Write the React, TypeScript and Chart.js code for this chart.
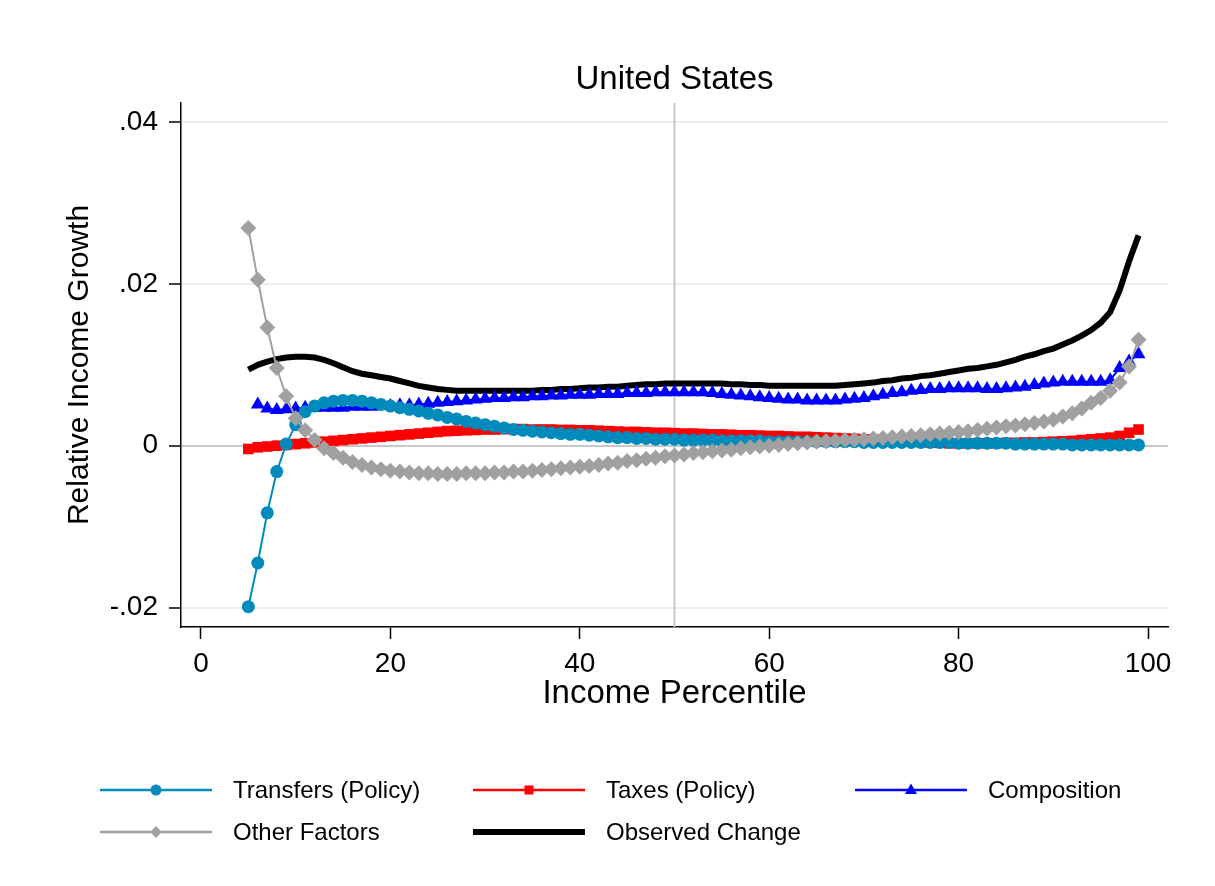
import React, { useEffect, useRef } from 'react';
import { Chart, registerables } from 'chart.js';

Chart.register(...registerables);

const FONT = '"Liberation Sans", Arial, sans-serif';

const chartTitle = 'United States';
const xAxisTitle = 'Income Percentile';
const yAxisTitle = 'Relative Income Growth';

const xTickValues = [0, 20, 40, 60, 80, 100];
const yTickValues = [-0.02, 0, 0.02, 0.04];
const yTickLabels = ['-.02', '0', '.02', '.04'];

const percentiles = [
  5, 6, 7, 8, 9, 10, 11, 12, 13, 14,
  15, 16, 17, 18, 19, 20, 21, 22, 23, 24,
  25, 26, 27, 28, 29, 30, 31, 32, 33, 34,
  35, 36, 37, 38, 39, 40, 41, 42, 43, 44,
  45, 46, 47, 48, 49, 50, 51, 52, 53, 54,
  55, 56, 57, 58, 59, 60, 61, 62, 63, 64,
  65, 66, 67, 68, 69, 70, 71, 72, 73, 74,
  75, 76, 77, 78, 79, 80, 81, 82, 83, 84,
  85, 86, 87, 88, 89, 90, 91, 92, 93, 94,
  95, 96, 97, 98, 99,
];

const transfers = [
  -0.0199, -0.0145, -0.0083, -0.0032, 0.0002, 0.0026, 0.0042, 0.0049, 0.0053, 0.0055,
  0.0056, 0.0056, 0.0055, 0.0053, 0.0051, 0.0049, 0.0047, 0.0045, 0.0043, 0.004,
  0.0038, 0.0035, 0.0033, 0.003, 0.0028, 0.0026, 0.0024, 0.0022, 0.002, 0.0019,
  0.0018, 0.0017, 0.0016, 0.0015, 0.0014, 0.0014, 0.0013, 0.0012, 0.0011, 0.001,
  0.001, 0.0009, 0.0009, 0.0008, 0.0008, 0.0008, 0.0007, 0.0007, 0.0007, 0.0007,
  0.0006, 0.0006, 0.0006, 0.0006, 0.0006, 0.0005, 0.0005, 0.0005, 0.0005, 0.0005,
  0.0005, 0.0005, 0.0005, 0.0005, 0.0005, 0.0004, 0.0004, 0.0004, 0.0004, 0.0004,
  0.0004, 0.0004, 0.0004, 0.0004, 0.0004, 0.0003, 0.0003, 0.0003, 0.0003, 0.0003,
  0.0003, 0.0002, 0.0002, 0.0002, 0.0002, 0.0002, 0.0002, 0.0001, 0.0001, 0.0001,
  0.0001, 0.0001, 0.0001, 0.0001, 0.0001,
];

const taxes = [
  -0.0004, -0.0002, -0.0001, 0.0, 0.0001, 0.0002, 0.0003, 0.0004, 0.0005, 0.0006,
  0.0007, 0.0008, 0.0009, 0.001, 0.0011, 0.0012, 0.0013, 0.0014, 0.0015, 0.0016,
  0.0017, 0.0018, 0.00185, 0.0019, 0.00195, 0.002, 0.002, 0.00205, 0.00205, 0.00205,
  0.002, 0.002, 0.002, 0.00195, 0.00195, 0.0019, 0.0019, 0.00185, 0.0018, 0.00175,
  0.0017, 0.0017, 0.00165, 0.0016, 0.0016, 0.00155, 0.0015, 0.0015, 0.00145, 0.0014,
  0.0014, 0.00135, 0.0013, 0.0013, 0.00125, 0.0012, 0.0012, 0.00115, 0.0011, 0.0011,
  0.00105, 0.001, 0.00095, 0.0009, 0.00085, 0.0008, 0.00075, 0.0007, 0.0006, 0.00055,
  0.0005, 0.00045, 0.0004, 0.00035, 0.0003, 0.0003, 0.0003, 0.0003, 0.0003, 0.0003,
  0.00035, 0.00035, 0.0004, 0.0004, 0.00045, 0.0005, 0.00055, 0.0006, 0.0007, 0.0008,
  0.0009, 0.001, 0.0012, 0.0016, 0.002,
];

const composition = [
  null, 0.0051, 0.0046, 0.0044, 0.0045, 0.0046, 0.0047, 0.0047, 0.0047, 0.0047,
  0.0047, 0.0048, 0.0048, 0.0048, 0.0049, 0.0049, 0.005, 0.005, 0.0051, 0.0052,
  0.0053, 0.0054, 0.0055, 0.0056, 0.0057, 0.0058, 0.0059, 0.0059, 0.006, 0.006,
  0.0061, 0.0061, 0.0062, 0.0062, 0.0063, 0.0063, 0.0063, 0.0064, 0.0064, 0.0064,
  0.0065, 0.0065, 0.0065, 0.0066, 0.0066, 0.0066, 0.0066, 0.0066, 0.0066, 0.0065,
  0.0064, 0.0063, 0.0062, 0.0061, 0.006, 0.0059, 0.0058, 0.0057, 0.0057, 0.0056,
  0.0056, 0.0056, 0.0056, 0.0057, 0.0058, 0.0059, 0.0061, 0.0063, 0.0065, 0.0066,
  0.0068, 0.0069, 0.007, 0.007, 0.0071, 0.0071, 0.0071, 0.0071, 0.007, 0.007,
  0.0071, 0.0072, 0.0073, 0.0075, 0.0077, 0.0078, 0.0079, 0.0079, 0.0079, 0.0079,
  0.0079, 0.0081, 0.0096, 0.0104, 0.0113,
];

const otherFactors = [
  0.0269, 0.0205, 0.0146, 0.0096, 0.0061, 0.0034, 0.0019, 0.0007, -0.0003, -0.0009,
  -0.0015, -0.002, -0.0024, -0.0027, -0.0029, -0.0031, -0.0032, -0.0033, -0.0034, -0.0034,
  -0.0035, -0.0035, -0.0035, -0.0034, -0.0034, -0.0034, -0.0033, -0.0033, -0.0032, -0.0032,
  -0.0031, -0.003, -0.0029, -0.0028, -0.0027, -0.0026, -0.0025, -0.0024, -0.0022, -0.0021,
  -0.0019, -0.0018, -0.0016, -0.0015, -0.0013, -0.0012, -0.0011, -0.0009, -0.0008, -0.0007,
  -0.0006, -0.0005, -0.0003, -0.0002, -0.0001, 0.0, 0.0001, 0.0002, 0.0003, 0.0004,
  0.0005, 0.00055, 0.0006, 0.0007, 0.00075, 0.0008, 0.0009, 0.00095, 0.00105, 0.00115,
  0.0012, 0.0013, 0.0014, 0.0015, 0.0016, 0.0017, 0.0018, 0.00195, 0.0021, 0.00225,
  0.0024, 0.0025, 0.00265, 0.0028, 0.003, 0.0032, 0.0036, 0.004, 0.0046, 0.0053,
  0.0059, 0.0068, 0.0078, 0.0098, 0.0131,
];

const observedChange = [
  0.0094, 0.01, 0.0104, 0.0107, 0.0109, 0.011, 0.011, 0.0109, 0.0106, 0.0102,
  0.0097, 0.0092, 0.0089, 0.0087, 0.0085, 0.0083, 0.008, 0.0077, 0.0074, 0.0072,
  0.007, 0.0069, 0.0068, 0.0068, 0.0068, 0.0068, 0.0068, 0.0068, 0.0068, 0.0068,
  0.0068, 0.0069, 0.0069, 0.007, 0.007, 0.0071, 0.0072, 0.0072, 0.0073, 0.0073,
  0.0074, 0.0075, 0.0076, 0.0076, 0.0077, 0.0077, 0.0077, 0.0077, 0.0077, 0.0077,
  0.0077, 0.0076, 0.0076, 0.0075, 0.0075, 0.0074, 0.0074, 0.0074, 0.0074, 0.0074,
  0.0074, 0.0074, 0.0074, 0.0075, 0.0076, 0.0077, 0.0078, 0.008, 0.0081, 0.0083,
  0.0084, 0.0086, 0.0087, 0.0089, 0.0091, 0.0093, 0.0095, 0.0096, 0.0098, 0.01,
  0.0103, 0.0106, 0.011, 0.0113, 0.0117, 0.012, 0.0125, 0.013, 0.0136, 0.0143,
  0.0152, 0.0165, 0.0192, 0.0228, 0.026,
];

const referenceLineX = 50;

const TEAL = '#008bbc';
const RED = '#ff0000';
const BLUE = '#0000ff';
const GRAY = '#a0a0a0';
const BLACK = '#000000';

type LegendItem = {
  label: string;
  color: string;
  marker: string | null;
  lineWidth: number;
  col: number;
  row: number;
};

const legendItems: LegendItem[] = [
  { label: 'Transfers (Policy)', color: TEAL, marker: 'circle', lineWidth: 2.5, col: 0, row: 0 },
  { label: 'Taxes (Policy)', color: RED, marker: 'square', lineWidth: 2.5, col: 1, row: 0 },
  { label: 'Composition', color: BLUE, marker: 'triangle', lineWidth: 2.5, col: 2, row: 0 },
  { label: 'Other Factors', color: GRAY, marker: 'diamond', lineWidth: 2.5, col: 0, row: 1 },
  { label: 'Observed Change', color: BLACK, marker: null, lineWidth: 6, col: 1, row: 1 },
];

const toPoints = (arr: (number | null)[]) =>
  percentiles.map((p, i) => ({ x: p, y: arr[i] }));

function drawMarker(ctx: CanvasRenderingContext2D, kind: string, x: number, y: number, color: string) {
  ctx.save();
  ctx.fillStyle = color;
  ctx.beginPath();
  if (kind === 'circle') {
    ctx.arc(x, y, 5.5, 0, Math.PI * 2);
  } else if (kind === 'square') {
    ctx.rect(x - 4.5, y - 4.5, 9, 9);
  } else if (kind === 'triangle') {
    ctx.moveTo(x, y - 6.5);
    ctx.lineTo(x + 6, y + 4);
    ctx.lineTo(x - 6, y + 4);
    ctx.closePath();
  } else if (kind === 'diamond') {
    ctx.moveTo(x, y - 6);
    ctx.lineTo(x + 6, y);
    ctx.lineTo(x, y + 6);
    ctx.lineTo(x - 6, y);
    ctx.closePath();
  }
  ctx.fill();
  ctx.restore();
}

const decorPlugin = {
  id: 'decor',
  beforeDatasetsDraw(chart: any) {
    const { ctx, chartArea, scales } = chart;
    const x = scales.x.getPixelForValue(referenceLineX);
    ctx.save();
    ctx.strokeStyle = '#c8c8c8';
    ctx.lineWidth = 2;
    ctx.beginPath();
    ctx.moveTo(x, chartArea.top);
    ctx.lineTo(x, chartArea.bottom);
    ctx.stroke();
    ctx.restore();
  },
  afterDraw(chart: any) {
    const { ctx, chartArea } = chart;
    ctx.save();
    ctx.fillStyle = '#000';
    ctx.font = `33px ${FONT}`;
    ctx.textAlign = 'center';
    ctx.textBaseline = 'middle';
    ctx.fillText(chartTitle, (chartArea.left + chartArea.right) / 2, 80);

    const colX = [100, 473, 855];
    const rowY = [790, 832];
    const lineLen = 112;
    const textGap = 21;
    ctx.font = `24px ${FONT}`;
    ctx.textAlign = 'left';
    ctx.textBaseline = 'middle';
    legendItems.forEach((it) => {
      const x0 = colX[it.col];
      const y = rowY[it.row];
      ctx.strokeStyle = it.color;
      ctx.lineWidth = it.lineWidth;
      ctx.lineCap = 'butt';
      ctx.beginPath();
      ctx.moveTo(x0, y);
      ctx.lineTo(x0 + lineLen, y);
      ctx.stroke();
      if (it.marker) drawMarker(ctx, it.marker, x0 + lineLen / 2, y, it.color);
      ctx.fillStyle = '#000';
      ctx.fillText(it.label, x0 + lineLen + textGap, y + 1);
    });
    ctx.restore();
  },
};

export default function App() {
  const canvasRef = useRef<HTMLCanvasElement | null>(null);

  useEffect(() => {
    const canvas = canvasRef.current;
    if (!canvas) return;

    const chart = new Chart(canvas, {
      type: 'line',
      data: {
        datasets: [
          {
            label: 'Transfers (Policy)',
            data: toPoints(transfers),
            borderColor: TEAL,
            backgroundColor: TEAL,
            borderWidth: 2,
            pointStyle: 'circle',
            pointRadius: 6.5,
            pointBorderWidth: 0,
            tension: 0,
            order: 2,
          },
          {
            label: 'Taxes (Policy)',
            data: toPoints(taxes),
            borderColor: RED,
            backgroundColor: RED,
            borderWidth: 2,
            pointStyle: 'rect',
            pointRadius: 7.5,
            pointBorderWidth: 0,
            tension: 0,
            order: 3,
          },
          {
            label: 'Composition',
            data: toPoints(composition),
            borderColor: BLUE,
            backgroundColor: BLUE,
            borderWidth: 2,
            pointStyle: 'triangle',
            pointRadius: 8,
            pointBorderWidth: 0,
            tension: 0,
            order: 4,
          },
          {
            label: 'Other Factors',
            data: toPoints(otherFactors),
            borderColor: GRAY,
            backgroundColor: GRAY,
            borderWidth: 2,
            pointStyle: 'rectRot',
            pointRadius: 8,
            pointBorderWidth: 0,
            tension: 0,
            order: 1,
          },
          {
            label: 'Observed Change',
            data: toPoints(observedChange),
            borderColor: BLACK,
            backgroundColor: BLACK,
            borderWidth: 6,
            pointRadius: 0,
            tension: 0,
            order: 5,
          },
        ],
      },
      options: {
        responsive: false,
        maintainAspectRatio: false,
        devicePixelRatio: 1,
        animation: false,
        events: [],
        layout: { padding: { top: 103, right: 47, bottom: 172, left: 0 } },
        plugins: {
          legend: { display: false },
          tooltip: { enabled: false },
          title: { display: false },
        },
        scales: {
          x: {
            type: 'linear',
            min: -2.11,
            max: 102.11,
            afterBuildTicks: (scale: any) => {
              scale.ticks = xTickValues.map((v) => ({ value: v }));
            },
            afterFit: (scale: any) => {
              scale.height = 87;
            },
            ticks: {
              font: { family: FONT, size: 28 },
              color: '#000',
              padding: 8,
              maxRotation: 0,
              autoSkip: false,
              callback: (v: any) => String(v),
            },
            grid: {
              drawOnChartArea: false,
              drawTicks: true,
              tickLength: 12,
              tickColor: '#000',
              tickWidth: 1.5,
            },
            border: { display: true, color: '#000', width: 1.5 },
            title: {
              display: true,
              text: xAxisTitle,
              font: { family: FONT, size: 33 },
              color: '#000',
              padding: { top: 0, bottom: 0 },
            },
          },
          y: {
            type: 'linear',
            min: -0.02241,
            max: 0.04236,
            afterBuildTicks: (scale: any) => {
              scale.ticks = yTickValues.map((v) => ({ value: v }));
            },
            afterFit: (scale: any) => {
              scale.width = 181;
            },
            ticks: {
              font: { family: FONT, size: 28 },
              color: '#000',
              padding: 11,
              autoSkip: false,
              callback: (v: any) => {
                const i = yTickValues.indexOf(v);
                return i >= 0 ? yTickLabels[i] : '';
              },
            },
            grid: {
              drawOnChartArea: true,
              drawTicks: true,
              tickLength: 12,
              tickColor: '#000',
              tickWidth: 1.5,
              lineWidth: 2,
              color: (c: any) => (c.tick && c.tick.value === 0 ? '#c8c8c8' : '#e8eff1'),
            },
            border: { display: true, color: '#000', width: 1.5 },
            title: {
              display: true,
              text: yAxisTitle,
              font: { family: FONT, size: 30 },
              color: '#000',
              padding: { top: 62, bottom: 0 },
            },
          },
        },
      },
      plugins: [decorPlugin],
    } as any);

    return () => chart.destroy();
  }, []);

  return (
    <div
      style={{
        position: 'absolute',
        left: 0,
        top: 0,
        width: 1215,
        height: 886,
        background: '#fff',
      }}
    >
      <canvas ref={canvasRef} width={1215} height={886} style={{ display: 'block' }} />
    </div>
  );
}
